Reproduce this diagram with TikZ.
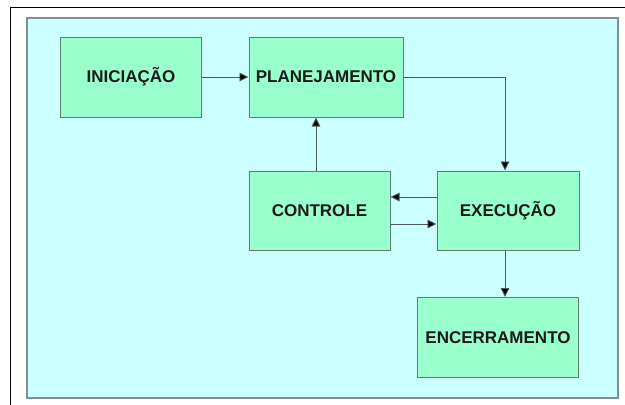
\documentclass[tikz,border=0pt]{standalone}
\usepackage{fontspec}
\setmainfont{Liberation Sans}
\usetikzlibrary{arrows.meta}
\definecolor{bgcyan}{HTML}{CCFFFF}
\definecolor{bgedge}{HTML}{7F9090}
\definecolor{boxfill}{HTML}{99FFCC}
\definecolor{boxedge}{HTML}{5F7F70}
\definecolor{linecol}{HTML}{4A5A5A}
\tikzset{
  stagebox/.style={draw=boxedge, line width=1pt, fill=boxfill, rectangle, inner sep=0pt,
    font=\fontsize{17}{20}\selectfont\bfseries, text=black!90},
  conn/.style={draw=linecol, line width=0.9pt, -{Triangle[length=9pt,width=8.5pt,fill=black]}}
}
\begin{document}
\begin{tikzpicture}[x=1pt,y=-1pt]
\useasboundingbox (0,0) rectangle (625,405);
\fill[white] (0,0) rectangle (625,405);
\draw[black, line width=1pt] (10,405) -- (10,7) -- (625,7);
\draw[bgedge, line width=1.2pt, fill=bgcyan] (27,18) rectangle (618,398);
\node[stagebox, minimum width=141pt, minimum height=80pt] (ini) at (131,77) {INICIAÇÃO};
\node[stagebox, minimum width=154pt, minimum height=80pt] (plan) at (326,77) {PLANEJAMENTO};
\node[stagebox, minimum width=141pt, minimum height=79pt] (ctrl) at (319.5,210.5) {CONTROLE};
\node[stagebox, minimum width=142pt, minimum height=79pt] (exec) at (508,210.5) {EXECUÇÃO};
\node[stagebox, minimum width=161pt, minimum height=80pt] (enc) at (498,337.5) {ENCERRAMENTO};
\draw[conn] (ini.east) -- (plan.west);
\draw[conn] (plan.east) -| ([xshift=-3pt]exec.north);
\draw[conn] ([xshift=-3.5pt]ctrl.north) -- ([xshift=-3.5pt]ctrl.north |- plan.south);
\draw[conn] ([yshift=13.5pt]exec.west) -- ([yshift=13.5pt]exec.west -| ctrl.east);
\draw[conn] ([yshift=-13.5pt]ctrl.east) -- ([yshift=-13.5pt]ctrl.east -| exec.west);
\draw[conn] ([xshift=-3pt]exec.south) -- ([xshift=-3pt]exec.south |- enc.north);
\end{tikzpicture}
\end{document}
